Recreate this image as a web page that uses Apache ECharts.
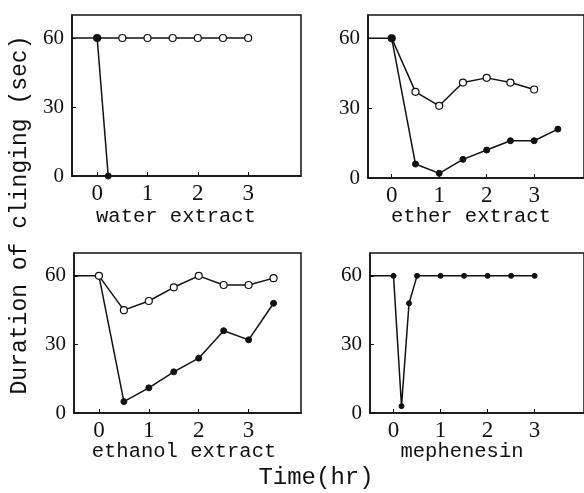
<!DOCTYPE html>
<html>
<head>
<meta charset="utf-8">
<script src="https://cdn.jsdelivr.net/npm/echarts@6/dist/echarts.min.js"></script>
<style>
  html, body { margin: 0; padding: 0; background: #fff; }
  #chart { width: 584px; height: 493px; }
</style>
</head>
<body>
<div id="chart"></div>
<script>
// time points (hr)
const hours = [0, 0.5, 1, 1.5, 2, 2.5, 3, 3.5];
const mephHours = [0, 0.17, 0.33, 0.5, 1, 1.5, 2, 2.5, 3];
const waterHours = [0, 0.22];
const controlHours = [-0.5, 0];
const xTicks = [0, 1, 2, 3];
const yTicks = [0, 30, 60];

// duration of clinging (sec)
const control = [60, 60];
const waterOpen = [60, 60, 60, 60, 60, 60, 60];
const waterFilled = [60, 0];
const etherOpen = [60, 37, 31, 41, 43, 41, 38];
const etherFilled = [60, 6, 2, 8, 12, 16, 16, 21];
const ethanolOpen = [60, 45, 49, 55, 60, 56, 56, 59];
const ethanolFilled = [60, 5, 11, 18, 24, 36, 32, 48];
const mephenesin = [60, 3, 48, 60, 60, 60, 60, 60, 60];

const panelNames = ['water extract', 'ether extract', 'ethanol extract', 'mephenesin'];

const pair = (xs, ys) => ys.map((v, i) => [xs[i], v]);

let chart = echarts.init(document.getElementById('chart'));

const grids = [
  { left: 72, top: 15, width: 229, height: 161 },
  { left: 368, top: 15, width: 229, height: 163 },
  { left: 74, top: 253, width: 227, height: 160 },
  { left: 370, top: 253, width: 229, height: 160 }
];

const xAxes = grids.map((g, i) => ({
  gridIndex: i,
  type: 'value',
  min: -0.5,
  max: 4.05,
  axisLine: { show: true, lineStyle: { color: '#111', width: 1.5 } },
  axisTick: { show: true, inside: true, length: 4, customValues: xTicks, lineStyle: { color: '#111' } },
  axisLabel: { customValues: xTicks, margin: 6, fontFamily: 'Liberation Serif', fontSize: 23, color: '#111' },
  splitLine: { show: false }
}));

const yAxes = grids.map((g, i) => ({
  gridIndex: i,
  type: 'value',
  min: 0,
  max: 70,
  axisLine: { show: true, onZero: false, lineStyle: { color: '#111', width: 1.5 } },
  axisTick: { show: true, inside: true, length: 4, customValues: yTicks, lineStyle: { color: '#111' } },
  axisLabel: { customValues: yTicks, margin: 8, fontFamily: 'Liberation Serif', fontSize: 21, color: '#111' },
  splitLine: { show: false }
}));

function line(i, data, open, size) {
  return {
    type: 'line',
    xAxisIndex: i,
    yAxisIndex: i,
    data: data,
    symbol: 'circle',
    symbolSize: size || 7,
    showAllSymbol: true,
    lineStyle: { color: '#111', width: 1.5 },
    itemStyle: open
      ? { color: '#fff', borderColor: '#111', borderWidth: 1.2 }
      : { color: '#111', borderColor: '#111', borderWidth: 1 },
    silent: true,
    animation: false
  };
}

function base(i) {
  return {
    type: 'line', xAxisIndex: i, yAxisIndex: i,
    data: pair(controlHours, control),
    symbol: 'none',
    lineStyle: { color: '#111', width: 1.5 },
    silent: true, animation: false
  };
}

const series = [
  base(0), line(0, pair(hours, waterOpen), true), line(0, pair(waterHours, waterFilled), false, 6),
  base(1), line(1, pair(hours, etherOpen), true), line(1, pair(hours, etherFilled), false, 6),
  // open circles drawn last here: the 0 hr point shows as open
  base(2), line(2, pair(hours, ethanolFilled), false, 6), line(2, pair(hours, ethanolOpen), true),
  base(3), line(3, pair(mephHours, mephenesin), false, 5)
];

const labelPos = [[176, 217], [471, 217], [184, 452], [462, 452]];

const graphics = panelNames.map((t, i) => ({
  type: 'text',
  x: labelPos[i][0],
  y: labelPos[i][1],
  style: { text: t, fontFamily: 'Liberation Mono', fontSize: 20.5, fill: '#111', align: 'center', verticalAlign: 'middle' }
}));
graphics.push({
  type: 'text', x: 20, y: 215, rotation: Math.PI / 2,
  style: { text: 'Duration of clinging (sec)', fontFamily: 'Liberation Mono', fontSize: 23, fill: '#111', align: 'center', verticalAlign: 'middle' }
});
graphics.push({
  type: 'text', x: 316, y: 478,
  style: { text: 'Time(hr)', fontFamily: 'Liberation Mono', fontSize: 24, fill: '#111', align: 'center', verticalAlign: 'middle' }
});

let option = {
  backgroundColor: '#fff',
  animation: false,
  grid: grids.map(g => Object.assign({ show: true, borderColor: '#111', borderWidth: 1.5, backgroundColor: 'transparent' }, g)),
  xAxis: xAxes,
  yAxis: yAxes,
  series: series,
  graphic: graphics
};
chart.setOption(option);
</script>
</body>
</html>
